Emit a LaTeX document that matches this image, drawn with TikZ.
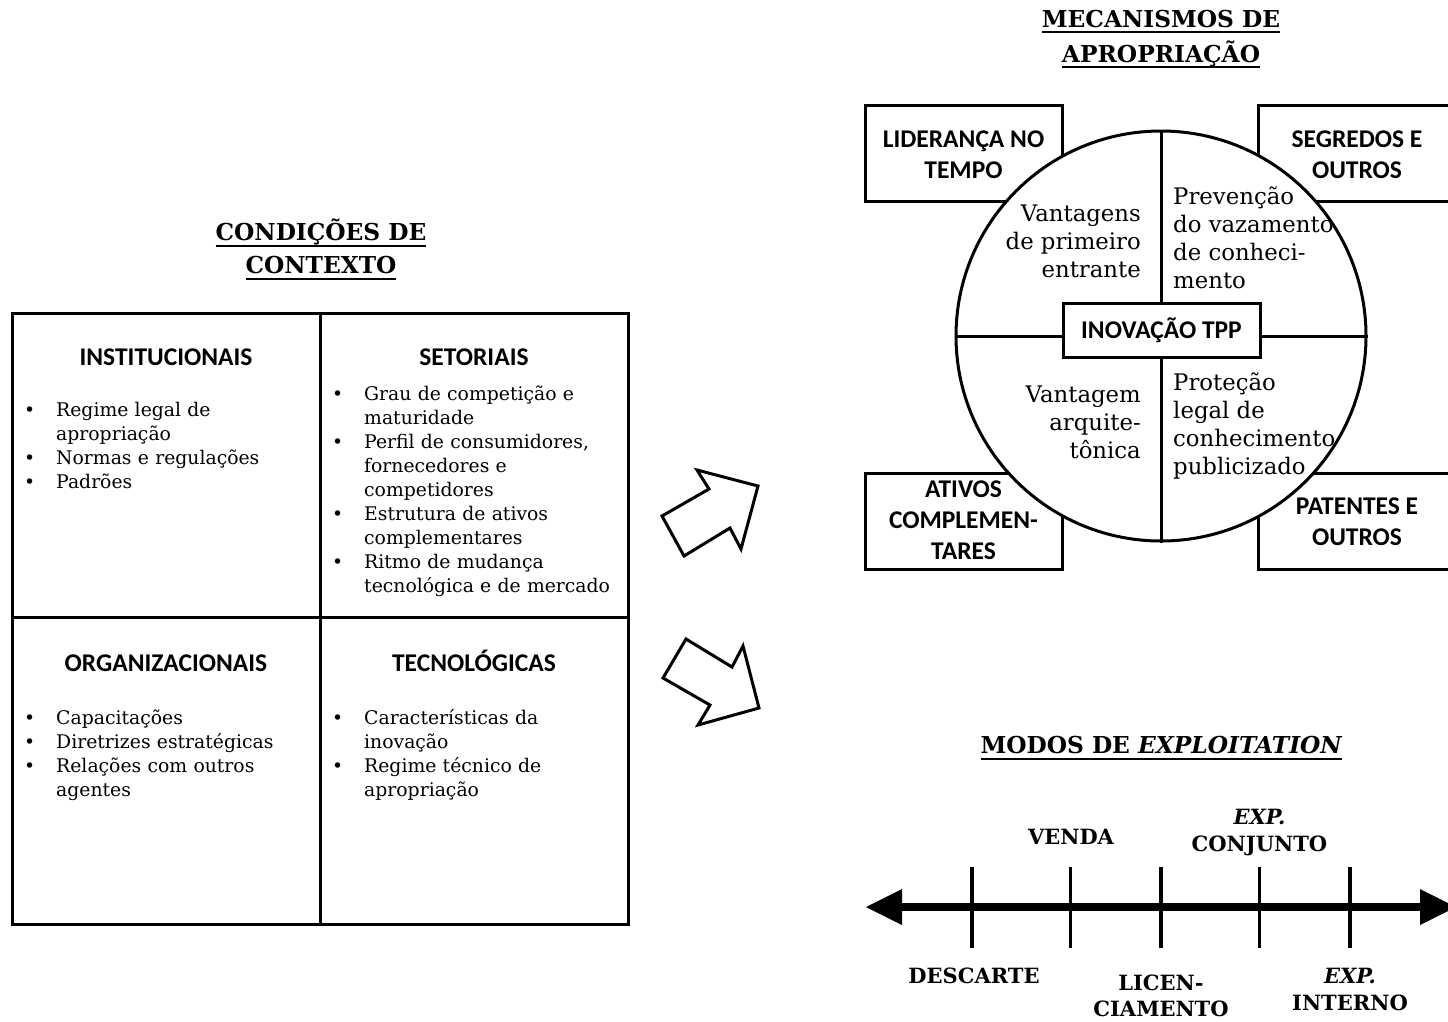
\documentclass[tikz,border=0pt]{standalone}
\usepackage{fontspec}
\setmainfont{DejaVu Serif}
\newfontfamily\sansbold{Carlito}
% underline drawn at a fixed distance below the baseline
\newcommand\ulin[1]{\setbox0=\hbox{#1}\rlap{\rule[-6pt]{\wd0}{2pt}}\box0}
% bullet item with hanging indent
\newcommand\bulitem[1]{\par\noindent\hangindent=32pt\hangafter=1\makebox[32pt][l]{\strut\textbullet}#1\par}
\begin{document}
\begin{tikzpicture}[x=1pt,y=-1pt,
  frame/.style={line width=3pt},
  secthd/.style={font=\sansbold\bfseries\fontsize{25.5}{29}\selectfont, inner sep=0pt, anchor=base},
  boxlbl/.style={font=\sansbold\bfseries\fontsize{25.5}{31}\selectfont, align=center, inner sep=0pt, anchor=north},
  cornerbox/.style={draw, line width=3pt, minimum width=197pt, minimum height=96pt, inner sep=0pt},
  blist/.style={font=\fontsize{18.8}{24}\selectfont, text width=300pt, inner sep=0pt, anchor=north west, align=left},
  qtext/.style={font=\fontsize{22.8}{28}\selectfont, inner sep=0pt},
  ttl/.style={font=\bfseries\fontsize{23.3}{33}\selectfont, inner sep=0pt, anchor=base},
  tmlbl/.style={font=\bfseries\fontsize{21}{26.5}\selectfont, align=center, inner sep=0pt},
  blockarrow/.style={line width=3pt, line join=miter},
  tick/.style={line width=3.5pt},
]
\useasboundingbox (0,0) rectangle (1448,1021);
\fill[white] (0,0) rectangle (1448,1021);
\clip (0,0) rectangle (1448,1021);

% ---------- context conditions ----------
\node[ttl] (ctx1) at (321,240.5) {\ulin{CONDIÇÕES DE}};
\node[ttl] (ctx2) at (321,273.5) {\ulin{CONTEXTO}};

\draw[frame] (12,313) rectangle (628,924);
\draw[frame] (320,313) -- (320,924);
\draw[frame] (12,617) -- (628,617);

\node[secthd] (inst) at (166,365) {INSTITUCIONAIS};
\node[secthd] (seto) at (474,365) {SETORIAIS};
\node[secthd] (orga) at (166,671) {ORGANIZACIONAIS};
\node[secthd] (tecn) at (474,671) {TECNOLÓGICAS};

\node[blist] (instl) at (24,392.2) {%
  \bulitem{Regime legal de\newline apropriação}%
  \bulitem{Normas e regulações}%
  \bulitem{Padrões}};
\node[blist] (setol) at (332,376.2) {%
  \bulitem{Grau de competição e\newline maturidade}%
  \bulitem{Perfil de consumidores,\newline fornecedores e\newline competidores}%
  \bulitem{Estrutura de ativos\newline complementares}%
  \bulitem{Ritmo de mudança\newline tecnológica e de mercado}};
\node[blist] (orgal) at (24,700.2) {%
  \bulitem{Capacitações}%
  \bulitem{Diretrizes estratégicas}%
  \bulitem{Relações com outros\newline agentes}};
\node[blist] (tecnl) at (332,700.2) {%
  \bulitem{Características da\newline inovação}%
  \bulitem{Regime técnico de\newline apropriação}};

% ---------- block arrows ----------
\draw[blockarrow] (697,470) -- (758,486) -- (741,549) -- (730,528) -- (684,556) -- (662,516) -- (709,489) -- cycle;
\draw[blockarrow] (686,639) -- (732,667) -- (743,646) -- (759,708) -- (698,725) -- (710,705) -- (663,678) -- cycle;

% ---------- appropriation mechanisms ----------
\node[ttl] (mec1) at (1161,27) {\ulin{MECANISMOS DE}};
\node[ttl] (mec2) at (1161,62) {\ulin{APROPRIAÇÃO}};

\node[cornerbox] (lid) at (963.5,153) {};
\node[cornerbox] (seg) at (1357,153) {};
\node[cornerbox] (ati) at (963.5,521) {};
\node[cornerbox] (pat) at (1357,521) {};

\node[draw, fill=white, circle, line width=3pt, minimum size=410pt, inner sep=0pt] (circ) at (1161,336) {};
\node[draw, fill=white, line width=3pt, minimum width=197pt, minimum height=54pt, inner sep=0pt] (inov) at (1161.5,330) {};
\draw[frame] (inov.north) -- (inov.north |- circ.north);
\draw[frame] (inov.south) -- (inov.south |- circ.south);
\draw[frame] (circ.west) -- (circ.west -| inov.west);
\draw[frame] (circ.east) -- (circ.east -| inov.east);
\node[secthd] (inovtxt) at (1161.5,338) {INOVAÇÃO TPP};

\node[boxlbl] (lidtxt) at (963.5,125.3) {\strut LIDERANÇA NO\\TEMPO};
\node[boxlbl] (segtxt) at (1357,125.3) {\strut SEGREDOS E\\OUTROS};
\node[boxlbl] (atitxt) at (963.5,475.3) {\strut ATIVOS\\COMPLEMEN-\\TARES};
\node[boxlbl] (pattxt) at (1357,492.3) {\strut PATENTES E\\OUTROS};

\node[qtext, align=right, anchor=north east] (q1) at (1141,201.4) {\strut Vantagens\\de primeiro\\entrante};
\node[qtext, align=left, anchor=north west] (q2) at (1173,184.4) {\strut Prevenção\\do vazamento\\de conheci-\\mento};
\node[qtext, align=right, anchor=north east] (q3) at (1141,382.4) {\strut Vantagem\\arquite-\\tônica};
\node[qtext, align=left, anchor=north west] (q4) at (1173,370.4) {\strut Proteção\\legal de\\conhecimento\\publicizado};

% ---------- exploitation modes ----------
\node[ttl] (mod) at (1161.5,753.5) {\ulin{MODOS DE \textit{EXPLOITATION}}};

\coordinate (axl) at (866,907);
\coordinate (axr) at (1456,907);
\draw[line width=8pt] (900,907) -- (1422,907);
\fill (axl) -- ++(36,-18) -- ++(0,36) -- cycle;
\fill (axr) -- ++(-36,-18) -- ++(0,36) -- cycle;

\foreach \n/\x in {t1/972, t2/1070.5, t3/1161, t4/1259.5, t5/1350}{
  \coordinate (\n) at (\x,907);
  \draw[tick] (\x,867) -- (\x,948);
}

\node[tmlbl, anchor=base] (venda) at (1071,844.7) {VENDA};
\node[tmlbl, anchor=north] (conj) at (1259.5,805.8) {\strut\textit{EXP.}\\CONJUNTO};
\node[tmlbl, anchor=base] (desc) at (974,983.7) {DESCARTE};
\node[tmlbl, anchor=north] (lic) at (1161,971.3) {\strut LICEN-\\CIAMENTO};
\node[tmlbl, anchor=north] (intn) at (1350,964.8) {\strut\textit{EXP.}\\INTERNO};
\end{tikzpicture}
\end{document}
